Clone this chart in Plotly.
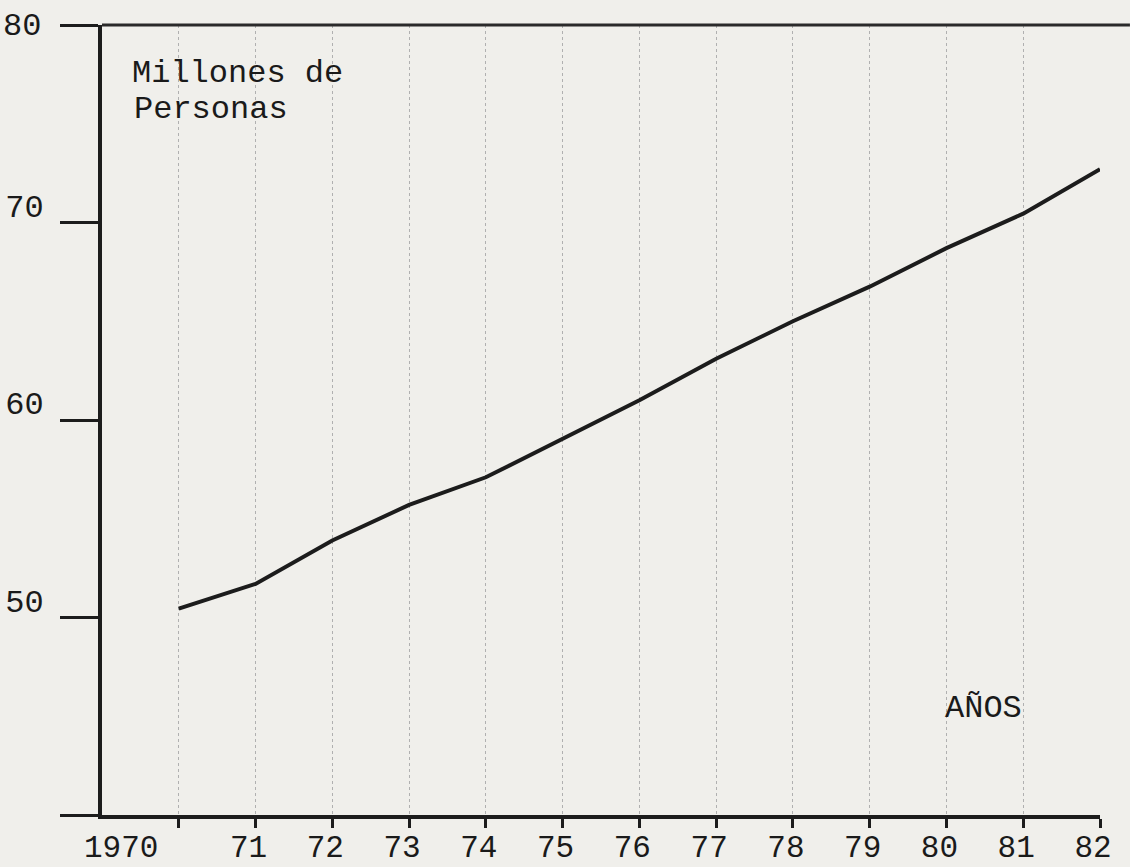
import plotly.graph_objects as go

years = [1970, 1971, 1972, 1973, 1974, 1975, 1976, 1977, 1978, 1979, 1980, 1981, 1982]
personas = [50.45, 51.7, 53.9, 55.7, 57.1, 59.07, 61.0, 63.1, 65.0, 66.75, 68.7, 70.45, 72.7]
x_ticktext = ["1970", "71", "72", "73", "74", "75", "76", "77", "78", "79", "80", "81", "82"]
y_tickvals = [40, 50, 60, 70, 80]
y_ticktext = ["", "50", "60", "70", "80"]

INK = "#1c1c1c"
BG = "#f0efeb"
TXT = "#1a1a1a"
FONT = "Liberation Mono"
FS = 32
XFS = 31

fig = go.Figure()
fig.add_trace(go.Scatter(x=years, y=personas, mode="lines",
                         line=dict(color=INK, width=4), hoverinfo="skip", showlegend=False))

fig.update_layout(
    width=1130, height=867,
    margin=dict(l=102, r=30, t=25, b=52, autoexpand=False),
    paper_bgcolor=BG, plot_bgcolor=BG,
    font=dict(family=FONT, size=FS, color=TXT),
    xaxis=dict(range=[1969, 1982], tickvals=years, ticktext=[""] + x_ticktext[1:],
               showline=True, linecolor=INK, linewidth=4, tickangle=0, automargin=False,
               ticks="outside", ticklen=9, tickwidth=3, tickcolor=INK,
               showgrid=True, gridcolor="#b0b0b0", gridwidth=1, griddash="dot",
               zeroline=False, ticklabelshift=-7, ticklabelstandoff=-8,
               ticklabeloverflow="allow",
               tickfont=dict(family=FONT, size=XFS, color=TXT)),
    yaxis=dict(range=[40, 80], tickvals=y_tickvals, ticktext=y_ticktext[:-1] + [""],
               showline=True, linecolor=INK, linewidth=4, automargin=False,
               ticks="outside", ticklen=38, tickwidth=3, tickcolor=INK,
               showgrid=False, zeroline=False, ticklabelshift=-17, ticklabelstandoff=10,
               ticklabeloverflow="allow",
               tickfont=dict(family=FONT, size=FS, color=TXT)),
    shapes=[dict(type="line", xref="paper", yref="paper", x0=0, x1=1.03, y0=1, y1=1,
                 line=dict(color="#2a2a2a", width=3))],
    annotations=[
        dict(text=x_ticktext[0], xref="x", yref="paper", x=1969.25, y=-0.043,
             xanchor="center", yanchor="middle", showarrow=False,
             font=dict(family=FONT, size=XFS, color=TXT)),
        dict(text=y_ticktext[-1], xref="paper", yref="y", x=-0.059, y=y_tickvals[-1],
             xanchor="right", yanchor="middle", showarrow=False, yshift=-1,
             font=dict(family=FONT, size=FS, color=TXT)),
        dict(text="Millones de", xref="paper", yref="paper", x=0.028, y=0.938,
             xanchor="left", yanchor="middle", showarrow=False,
             font=dict(family=FONT, size=FS, color=TXT)),
        dict(text="Personas", xref="paper", yref="paper", x=0.03, y=0.893,
             xanchor="left", yanchor="middle", showarrow=False,
             font=dict(family=FONT, size=FS, color=TXT)),
        dict(text="AÑOS", xref="paper", yref="paper", x=0.883, y=0.135,
             xanchor="center", yanchor="middle", showarrow=False,
             font=dict(family=FONT, size=FS, color=TXT)),
    ],
)

fig.write_html("out.html", config={"displayModeBar": False},
               post_script="document.body.style.margin='0';document.body.style.overflow='hidden';")
